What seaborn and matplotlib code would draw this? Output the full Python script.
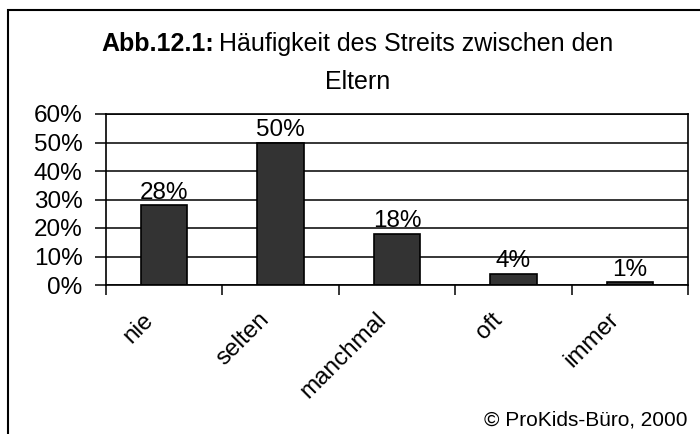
import matplotlib
matplotlib.use("Agg")
import matplotlib.pyplot as plt
import matplotlib.transforms as mtransforms
import seaborn as sns
import pandas as pd
from matplotlib.patches import Rectangle
from matplotlib.ticker import FixedLocator

# Data
categories = ["nie", "selten", "manchmal", "oft", "immer"]
percent = [28, 50, 18, 4, 1]
y_ticks = [0, 10, 20, 30, 40, 50, 60]

df = pd.DataFrame({"Häufigkeit": categories, "Anteil": percent})

sns.set_theme(style="white")
plt.rcParams["font.family"] = ["Liberation Sans", "DejaVu Sans"]
plt.rcParams["text.color"] = "black"
plt.rcParams["xtick.color"] = "black"
plt.rcParams["ytick.color"] = "black"

fig = plt.figure(figsize=(7, 4.34), dpi=100)
ax = fig.add_axes([106 / 700, 1 - 285 / 434, 582 / 700, 171 / 434])

sns.barplot(data=df, x="Häufigkeit", y="Anteil", ax=ax, color="#333333",
            edgecolor="black", linewidth=1.2, width=0.4, saturation=1)

# bar labels
ax.bar_label(ax.containers[0], labels=[f"{v}%" for v in percent],
             padding=1, fontsize=17.5, color="black")

ax.set_xlim(-0.5, len(categories) - 0.5)
ax.set_ylim(0, 60)
ax.set_yticks(y_ticks)
ax.set_yticklabels([f"{t}%" for t in y_ticks], fontsize=17.5)
ax.yaxis.grid(True, color="black", linewidth=1.1)
ax.set_axisbelow(True)

# labels at centres, tick marks at category boundaries
ax.set_xticks(range(len(categories)))
ax.set_xticklabels(categories, rotation=45, ha="right",
                   rotation_mode="anchor", fontsize=17.5)
ax.xaxis.set_minor_locator(FixedLocator([i - 0.5 for i in range(len(categories) + 1)]))
ax.tick_params(axis="x", which="major", length=0, pad=17)
ax.tick_params(axis="x", which="minor", bottom=True, length=7, width=1.1,
               direction="out", color="black")
ax.tick_params(axis="y", left=True, length=8, width=1.1, direction="out",
               color="black", pad=9)
ax.set_xlabel("")
ax.set_ylabel("")
for s in ax.spines.values():
    s.set_color("black")
    s.set_linewidth(1.2)

# nudge the rotated labels left like in the original
shift = mtransforms.ScaledTranslation(-22 / 100, 0, fig.dpi_scale_trans)
for lbl in ax.get_xticklabels():
    lbl.set_transform(lbl.get_transform() + shift)

# title: bold label plus normal text, second line centred
t1 = fig.text(101 / 700, 1 - 51 / 434, "Abb.12.1:", fontsize=18,
              fontweight="bold", ha="left", va="baseline")
fig.canvas.draw()
bb = t1.get_window_extent()
fig.text((bb.x1 + 5) / 700, 1 - 51 / 434, "Häufigkeit des Streits zwischen den",
         fontsize=18, ha="left", va="baseline")
fig.text(358 / 700, 1 - 89 / 434, "Eltern", fontsize=18, ha="center",
         va="baseline")

fig.text(688 / 700, 1 - 426 / 434, "© ProKids-Büro, 2000", fontsize=15,
         ha="right", va="baseline")

# outer frame (cut off at right and bottom)
fig.add_artist(Rectangle((8 / 700, -0.1), 1.1, 1.1 - 10 / 434,
                         transform=fig.transFigure, fill=False,
                         edgecolor="black", linewidth=1.5, clip_on=False))

fig.savefig("out.png", dpi=100, facecolor="white")
